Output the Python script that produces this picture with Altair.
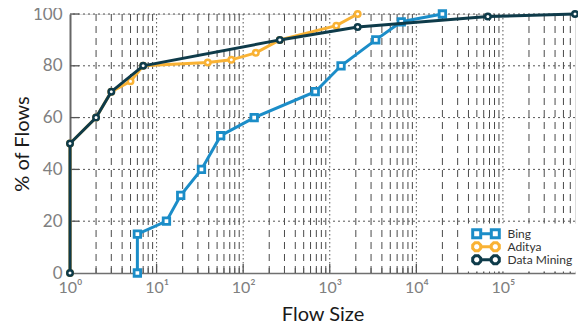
import altair as alt
import pandas as pd

# ---------------- data ----------------
series = ["Bing", "Aditya", "Data Mining"]
colors = ["#1b8dc8", "#f9b234", "#0e3b4a"]

bing_x = [6, 6, 13, 19, 33, 55, 134, 680, 1350, 3400, 6700, 20000]
bing_y = [0, 15, 20, 30, 40, 53, 60, 70, 80, 90, 97, 100]

aditya_x = [1, 1, 2, 3, 5, 7, 39, 73, 140, 265, 1190, 2100]
aditya_y = [0, 50, 60, 70, 74, 80, 81.3, 82.3, 85, 90, 95.5, 100]

dm_x = [1, 1, 2, 3, 7, 265, 2100, 67000, 680000]
dm_y = [0, 50, 60, 70, 80, 90, 95, 99, 100]

x_domain = [1, 680000]
y_ticks = [0, 20, 40, 60, 80, 100]
decades = [1, 10, 100, 1000, 10000, 100000]
minor = [m * 10 ** k for k in range(6) for m in range(2, 10) if m * 10 ** k < 680000]

rows = []
for name, xs, ys in zip(series, [bing_x, aditya_x, dm_x], [bing_y, aditya_y, dm_y]):
    for i, (xv, yv) in enumerate(zip(xs, ys)):
        rows.append({"series": name, "size": xv, "pct": yv, "i": i})
df = pd.DataFrame(rows)

W, H = 505, 259
FONT = "Lato"

xscale = alt.Scale(type="log", domain=x_domain, nice=False)
yscale = alt.Scale(domain=[0, 100], nice=False)
cscale = alt.Scale(domain=series, range=colors)


def octagon(cx, r):
    k = 0.414 * r
    pts = [(cx - r, -k), (cx - k, -r), (cx + k, -r), (cx + r, -k),
           (cx + r, k), (cx + k, r), (cx - k, r), (cx - r, k)]
    return "M" + "L".join("%.3f,%.3f" % p for p in pts) + "Z"


# legend symbols: two markers joined by a short line (unit coordinates)
circ_path = "M-1.06,0L1.06,0" + octagon(-1.86, 0.8) + octagon(1.86, 0.8)
sq_path = ("M-1.06,0L1.06,0"
           "M-2.66,-0.8L-1.06,-0.8L-1.06,0.8L-2.66,0.8Z"
           "M1.06,-0.8L2.66,-0.8L2.66,0.8L1.06,0.8Z")
shape_scale = alt.Scale(domain=series, range=[sq_path, circ_path, circ_path])

sup = "['\u2070','\u00b9','\u00b2','\u00b3','\u2074','\u2075','\u2076']"
x_axis = alt.Axis(values=decades, labelExpr="'10' + " + sup + "[round(log(datum.value)/LN10)]",
                  grid=False, ticks=False, domainColor="#707070", domainWidth=1.5,
                  labelFontSize=16, labelColor="#808080", labelFont=FONT, labelPadding=6,
                  title="Flow Size", titleFontSize=20, titleColor="#1a1a1a", titleFont=FONT,
                  titleFontWeight="normal", titlePadding=9, labelFlush=False, labelOverlap=False)
y_axis = alt.Axis(values=y_ticks, grid=False, ticks=False, domainColor="#666666", domainWidth=2,
                  labelFontSize=17, labelColor="#808080", labelFont=FONT, labelPadding=8,
                  title="% of Flows", titleFontSize=20, titleColor="#1a1a1a", titleFont=FONT,
                  titleFontWeight="normal", titlePadding=0)

legend = alt.Legend(title=None, orient="none", legendX=392, legendY=209.5, padding=4,
                    fillColor="white", strokeColor="white", rowPadding=0.01, clipHeight=12.5,
                    labelFontSize=12, labelColor="#333333", labelFont=FONT,
                    symbolSize=100, symbolStrokeWidth=3, symbolOffset=13.5, labelOffset=15,
                    symbolOpacity=1)


def X(field):
    return alt.X(field, scale=xscale, axis=x_axis)


def Y(field):
    return alt.Y(field, scale=yscale, axis=y_axis)


layers = []
# grid
layers.append(alt.Chart(pd.DataFrame({"v": minor})).mark_rule(
    color="#4a4a4a", strokeWidth=1, strokeDash=[7, 5]).encode(x=X("v:Q")))
layers.append(alt.Chart(pd.DataFrame({"v": decades[1:]})).mark_rule(
    color="#555555", strokeWidth=1, strokeDash=[1.5, 2.5]).encode(x=X("v:Q")))
layers.append(alt.Chart(pd.DataFrame({"p": y_ticks[1:]})).mark_rule(
    color="#555555", strokeWidth=1, strokeDash=[2, 3]).encode(y=Y("p:Q")))
# inward ticks
layers.append(alt.Chart(pd.DataFrame({"v": minor})).mark_rule(
    color="#555555", strokeWidth=1).encode(
    x=X("v:Q"), y=alt.value(H), y2=alt.value(H - 5)))
layers.append(alt.Chart(pd.DataFrame({"v": decades[1:]})).mark_rule(
    color="#555555", strokeWidth=1.3).encode(
    x=X("v:Q"), y=alt.value(H), y2=alt.value(H - 9)))
layers.append(alt.Chart(pd.DataFrame({"p": y_ticks[1:]})).mark_rule(
    color="#555555", strokeWidth=1.3).encode(
    y=Y("p:Q"), x=alt.value(0), x2=alt.value(9)))

for name, col in zip(series, colors):
    base = alt.Chart(df).transform_filter(alt.datum.series == name)
    enc = dict(x=X("size:Q"), y=Y("pct:Q"))
    layers.append(base.mark_line(strokeWidth=3, color=col).encode(order=alt.Order("i:Q"), **enc))
    if name == "Bing":
        pm = base.mark_point(shape="square", size=42, filled=False, fill="white", color=col,
                             fillOpacity=1, strokeWidth=2.8, opacity=1)
    else:
        pm = base.mark_point(shape="circle", size=30, filled=False, fill="white", color=col,
                             fillOpacity=1, strokeWidth=2.5, opacity=1)
    layers.append(pm.encode(**enc))

# legend-only layer (draws no points; supplies the colour + marker legend)
layers.append(alt.Chart(df).transform_filter("datum.i < 0").mark_point(
    filled=False, strokeWidth=3).encode(
    x=X("size:Q"), y=Y("pct:Q"),
    color=alt.Color("series:N", scale=cscale, legend=legend),
    shape=alt.Shape("series:N", scale=shape_scale, legend=legend)))

chart = alt.layer(*layers).properties(
    width=W, height=H,
    autosize=alt.AutoSizeParams(type="none"),
    padding={"left": 62, "top": 6, "right": 3, "bottom": 50},
).configure_view(strokeWidth=0).configure(font=FONT).configure_legend(rowPadding=0.01)

chart.save("out.html", embed_options={"renderer": "svg", "actions": False})
